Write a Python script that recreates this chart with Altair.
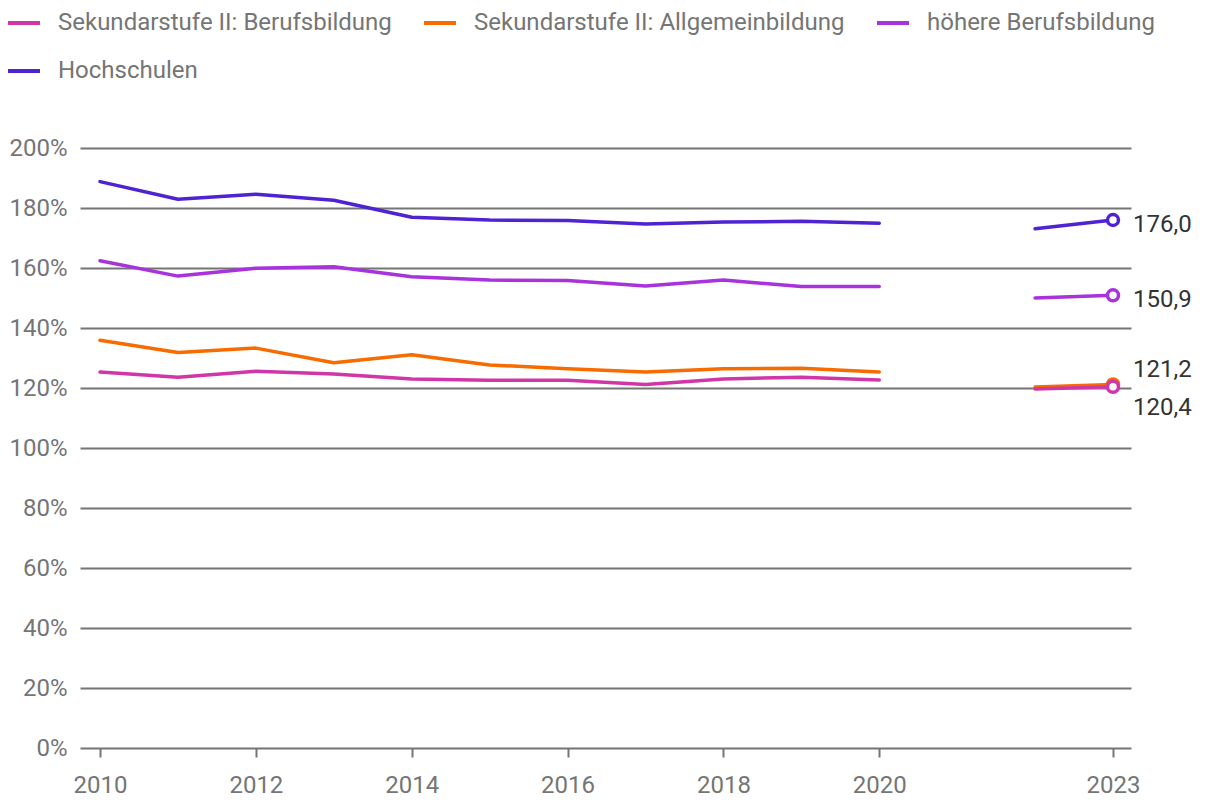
import altair as alt
import pandas as pd

series = ["Sekundarstufe II: Berufsbildung", "Sekundarstufe II: Allgemeinbildung",
          "höhere Berufsbildung", "Hochschulen"]
colors = ["#d036a8", "#f76b00", "#a832dc", "#4f22d2"]

years = [2010, 2011, 2012, 2013, 2014, 2015, 2016, 2017, 2018, 2019, 2020, 2022, 2023]
segment = ["a"] * 11 + ["b"] * 2

berufsbildung = [125.3, 123.6, 125.6, 124.7, 123.0, 122.6, 122.6, 121.2, 123.0, 123.6, 122.7, 119.7, 120.4]
allgemeinbildung = [135.9, 131.8, 133.3, 128.4, 131.1, 127.7, 126.4, 125.3, 126.4, 126.6, 125.3, 120.3, 121.2]
hoehere = [162.4, 157.3, 159.9, 160.4, 157.1, 156.0, 155.8, 154.0, 156.0, 153.8, 153.8, 150.0, 150.9]
hochschulen = [188.8, 182.9, 184.6, 182.6, 176.9, 176.0, 175.8, 174.7, 175.3, 175.6, 174.9, 173.1, 176.0]

values = {series[0]: berufsbildung, series[1]: allgemeinbildung,
          series[2]: hoehere, series[3]: hochschulen}

rows = []
for s in [series[3], series[2], series[1], series[0]]:
    for y, seg, v in zip(years, segment, values[s]):
        rows.append({"Jahr": y, "Segment": seg, "Serie": s, "Wert": v})
df = pd.DataFrame(rows)

x_ticks = [2010, 2012, 2014, 2016, 2018, 2020, 2023]
y_ticks = [0, 20, 40, 60, 80, 100, 120, 140, 160, 180, 200]

FONT = "Roboto"
GRAY = "#757575"

xenc = alt.X("Jahr:Q",
             scale=alt.Scale(domain=[2009.743, 2023.231], nice=False, zero=False),
             axis=alt.Axis(values=x_ticks, format="d", title=None, grid=False, domain=False,
                           ticks=True, tickSize=9, tickColor=GRAY, tickWidth=2,
                           labelFontSize=24, labelColor=GRAY, labelFont=FONT,
                           labelPadding=16))
yenc = alt.Y("Wert:Q",
             scale=alt.Scale(domain=[0, 200], nice=False),
             axis=alt.Axis(values=y_ticks, title=None, domain=False, ticks=False,
                           labelExpr="datum.value + '%'",
                           grid=True, gridColor=GRAY, gridWidth=2,
                           labelFontSize=24, labelColor=GRAY, labelFont=FONT,
                           labelPadding=13))

color_scale = alt.Scale(domain=series, range=colors)

base = alt.Chart(df)

lines = base.mark_line(strokeWidth=3.5, strokeCap="round", strokeJoin="round").encode(
    x=xenc, y=yenc,
    color=alt.Color("Serie:N", scale=color_scale, sort=series,
                    legend=alt.Legend(title=None, orient="none", legendX=-74, legendY=-143,
                                      direction="horizontal", columns=3, columnPadding=24,
                                      rowPadding=18, symbolType="stroke", symbolSize=1024,
                                      symbolStrokeWidth=4, labelFontSize=24, labelColor=GRAY,
                                      labelFont=FONT, labelOffset=16, labelLimit=600)),
    detail="Segment:N",
)

last = base.transform_filter("datum.Jahr == 2023")

points = last.mark_point(shape="circle", filled=False, fill="white", fillOpacity=1,
                         size=120, strokeWidth=3.5, opacity=1).encode(
    x=xenc, y=yenc,
    color=alt.Color("Serie:N", scale=color_scale, legend=None),
)

def label_layer(names, dy):
    flt = " || ".join([f"datum.Serie == '{n}'" for n in names])
    return last.transform_filter(flt).transform_calculate(
        Label="replace(format(datum.Wert, '.1f'), '.', ',')"
    ).mark_text(align="left", baseline="middle", dx=20, dy=dy, fontSize=24,
                font=FONT, color="#333333").encode(x=xenc, y=yenc, text="Label:N")

labels_top = label_layer([series[3], series[2]], 5)
label_orange = label_layer([series[1]], -14)
label_pink = label_layer([series[0]], 21)

chart = alt.layer(lines, points, labels_top, label_orange, label_pink).properties(
    width=1051, height=600,
    autosize=alt.AutoSizeParams(type="none"),
    padding={"left": 72, "top": 140, "right": 80, "bottom": 50},
).configure_view(stroke=None)

chart.save("out.html", embed_options={"renderer": "svg", "actions": False})
